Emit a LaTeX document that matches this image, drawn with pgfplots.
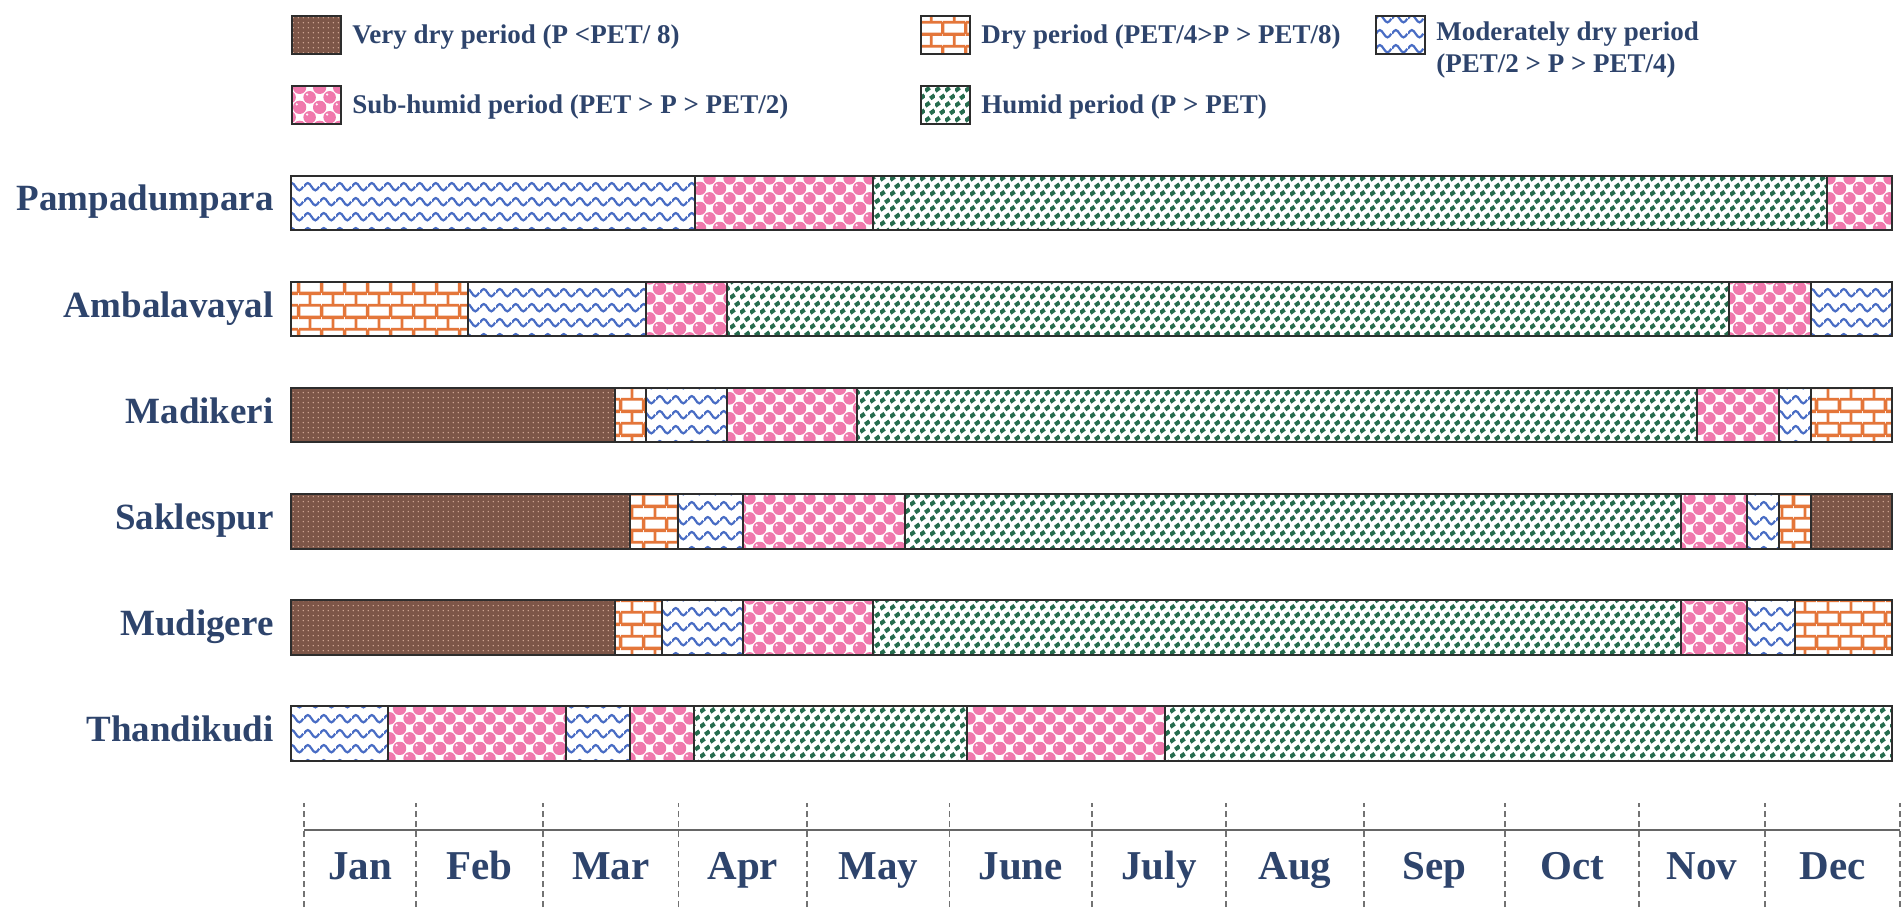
\documentclass[border=0pt]{standalone}
\usepackage{fontspec}
\setmainfont{Liberation Serif}
\usepackage{pgfplots}
\pgfplotsset{compat=1.18}
\usetikzlibrary{patterns,patterns.meta}

\definecolor{navy}{RGB}{46,68,108}
\definecolor{brownc}{RGB}{125,86,72}
\definecolor{dotc}{RGB}{214,172,152}
\definecolor{brickc}{RGB}{228,118,58}
\definecolor{wavec}{RGB}{72,108,196}
\definecolor{pinkc}{RGB}{240,120,172}
\definecolor{greenc}{RGB}{38,108,78}
\definecolor{edge}{RGB}{45,45,45}

\tikzdeclarepattern{
  name=vddots, type=uncolored,
  bottom left={(0pt,0pt)}, top right={(2.6pt,2.6pt)}, tile size={(2.6pt,2.6pt)},
  code={\fill (1.3pt,1.3pt) circle (0.42pt);}
}
\tikzdeclarepattern{
  name=mybricks, type=uncolored,
  bottom left={(0pt,0pt)}, top right={(11.5pt,11.8pt)}, tile size={(11.5pt,11.8pt)},
  code={
    \draw[line width=1.4pt] (0pt,0pt) -- (11.5pt,0pt);
    \draw[line width=1.4pt] (0pt,5.9pt) -- (11.5pt,5.9pt);
    \draw[line width=1.4pt] (0pt,11.8pt) -- (11.5pt,11.8pt);
    \draw[line width=1.4pt] (0pt,0pt) -- (0pt,5.9pt);
    \draw[line width=1.4pt] (11.5pt,0pt) -- (11.5pt,5.9pt);
    \draw[line width=1.4pt] (5.75pt,5.9pt) -- (5.75pt,11.8pt);
  }
}
\tikzdeclarepattern{
  name=mywave, type=uncolored,
  bottom left={(0pt,0pt)}, top right={(8pt,7.6pt)}, tile size={(8pt,7.6pt)},
  code={\draw[line width=1.15pt] (0pt,3.8pt) sin (2pt,5.7pt) cos (4pt,3.8pt) sin (6pt,1.9pt) cos (8pt,3.8pt);}
}
\tikzdeclarepattern{
  name=mypolka, type=uncolored,
  bottom left={(0pt,0pt)}, top right={(10pt,10pt)}, tile size={(10pt,10pt)},
  code={
    \fill (0pt,0pt) circle (3.25pt);
    \fill (10pt,0pt) circle (3.25pt);
    \fill (0pt,10pt) circle (3.25pt);
    \fill (10pt,10pt) circle (3.25pt);
    \fill (5pt,5pt) circle (3.25pt);
  }
}
\tikzdeclarepattern{
  name=polkahl, type=uncolored,
  bottom left={(0pt,0pt)}, top right={(10pt,10pt)}, tile size={(10pt,10pt)},
  code={
    \fill (3.7pt,6.4pt) circle (0.65pt);
    \fill (8.7pt,1.4pt) circle (0.65pt);
  }
}
\tikzdeclarepattern{
  name=mygreen, type=uncolored,
  bottom left={(0pt,0pt)}, top right={(5.2pt,7.4pt)}, tile size={(5.2pt,7.4pt)},
  code={
    \fill[rotate around={35:(1.3pt,1.85pt)}] (-0.1pt,0.8pt) rectangle (2.7pt,2.9pt);
    \fill[rotate around={35:(3.9pt,5.55pt)}] (2.5pt,4.5pt) rectangle (5.3pt,6.6pt);
  }
}

\tikzset{
  segbase/.style={draw=edge, line width=1pt},
  vdry/.style={segbase, preaction={fill=brownc}, pattern=vddots, pattern color=dotc},
  dry/.style={segbase, preaction={fill=white}, pattern=mybricks, pattern color=brickc},
  mdry/.style={segbase, preaction={fill=white}, pattern=mywave, pattern color=wavec},
  subh/.style={segbase, preaction={fill=white}, preaction={pattern=mypolka, pattern color=pinkc}, pattern=polkahl, pattern color=white!92!pinkc},
  humid/.style={segbase, preaction={fill=white}, pattern=mygreen, pattern color=greenc},
}

% one segment: style, row, end of the segment (months from 1 Jan)
\newcommand{\seg}[3]{\addplot[xbar, bar shift=0pt, bar width=0.514, forget plot, #1] coordinates {(#3,#2)};}

\begin{document}
\begin{tikzpicture}
\begin{axis}[
  name=main,
  at={(0pt,0pt)}, anchor=south west,
  scale only axis, width=800.5pt, height=318.3pt,
  xmin=0, xmax=12, ymin=0.5, ymax=6.5,
  clip=false,
  axis line style={draw=none},
  major tick length=0pt,
  xtick=\empty,
  ytick={1,2,3,4,5,6},
  yticklabels={Thandikudi,Mudigere,Saklespur,Madikeri,Ambalavayal,Pampadumpara},
  typeset ticklabels with strut,
  yticklabel style={font=\fontsize{18.5}{20}\selectfont\bfseries, text=navy, inner sep=0pt, xshift=-8.5pt},
  legend columns=3,
  legend cell align=left,
  legend image code/.code={\draw[#1] (0pt,-9.5pt) rectangle (24.5pt,9.5pt);},
  legend style={at={(0,1.2121)}, anchor=north west, draw=none, fill=none, inner sep=0pt,
    font=\fontsize{13.5}{16}\selectfont\bfseries, text=navy,
    row sep=15pt, column sep=0pt,
    /tikz/every odd column/.style={column sep=3pt},
    /tikz/every even column/.style={column sep=0pt}},
]
\addlegendimage{vdry}
\addlegendentry{\makebox[282pt][l]{Very dry period (P <PET/ 8)}}
\addlegendimage{dry}
\addlegendentry{\makebox[195pt][l]{Dry period (PET/4>P > PET/8)}}
\addlegendimage{mdry}
\addlegendentry{\strut\smash{\raisebox{2pt}{\begin{tabular}[t]{@{}l@{}}Moderately dry period\\(PET/2 > P > PET/4)\end{tabular}}}}
\addlegendimage{subh}
\addlegendentry{\makebox[282pt][l]{Sub-humid period (PET > P > PET/2)}}
\addlegendimage{humid}
\addlegendentry{\makebox[195pt][l]{Humid period (P > PET)}}

% Pampadumpara (row 6), segments drawn from the last to the first
\seg{subh}{6}{12}
\seg{humid}{6}{11.51}
\seg{subh}{6}{4.36}
\seg{mdry}{6}{3.03}
% Ambalavayal (row 5)
\seg{mdry}{5}{12}
\seg{subh}{5}{11.39}
\seg{humid}{5}{10.78}
\seg{subh}{5}{3.27}
\seg{mdry}{5}{2.66}
\seg{dry}{5}{1.33}
% Madikeri (row 4)
\seg{dry}{4}{12}
\seg{mdry}{4}{11.39}
\seg{subh}{4}{11.15}
\seg{humid}{4}{10.54}
\seg{subh}{4}{4.24}
\seg{mdry}{4}{3.27}
\seg{dry}{4}{2.66}
\seg{vdry}{4}{2.43}
% Saklespur (row 3)
\seg{vdry}{3}{12}
\seg{dry}{3}{11.39}
\seg{mdry}{3}{11.15}
\seg{subh}{3}{10.91}
\seg{humid}{3}{10.42}
\seg{subh}{3}{4.60}
\seg{mdry}{3}{3.39}
\seg{dry}{3}{2.90}
\seg{vdry}{3}{2.54}
% Mudigere (row 2)
\seg{dry}{2}{12}
\seg{mdry}{2}{11.27}
\seg{subh}{2}{10.91}
\seg{humid}{2}{10.42}
\seg{subh}{2}{4.36}
\seg{mdry}{2}{3.39}
\seg{dry}{2}{2.78}
\seg{vdry}{2}{2.43}
% Thandikudi (row 1)
\seg{humid}{1}{12}
\seg{subh}{1}{6.55}
\seg{humid}{1}{5.07}
\seg{subh}{1}{3.02}
\seg{mdry}{1}{2.54}
\seg{subh}{1}{2.06}
\seg{mdry}{1}{0.73}
\end{axis}

\begin{axis}[
  at={(6.5pt,-8.25pt)}, anchor=north west,
  scale only axis, width=798pt, height=52pt,
  xmin=0, xmax=12, ymin=0, ymax=1,
  axis line style={draw=none},
  major tick length=0pt,
  xtick={0,0.842,1.797,2.816,3.782,4.853,5.925,6.932,7.970,9.030,10.038,10.985,12},
  xticklabels={},
  xmajorgrids,
  major x grid style={black!55, line width=0.6pt, dash pattern=on 3pt off 2pt},
  ytick={0.74}, yticklabels={},
  ymajorgrids,
  major y grid style={black!60, line width=1.2pt},
  extra x ticks={0.421,1.32,2.306,3.299,4.318,5.389,6.429,7.451,8.5,9.534,10.512,11.493},
  extra x tick labels={Jan,Feb,Mar,Apr,May,June,July,Aug,Sep,Oct,Nov,Dec},
  extra x tick style={grid=none, xticklabel style={anchor=base, yshift=14pt, font=\fontsize{20.5}{22}\selectfont\bfseries, text=navy}},
]
\end{axis}
\pgfresetboundingbox
\path[use as bounding box] (-145.5pt,-60.25pt) rectangle (806.5pt,393.25pt);
\end{tikzpicture}
\end{document}
